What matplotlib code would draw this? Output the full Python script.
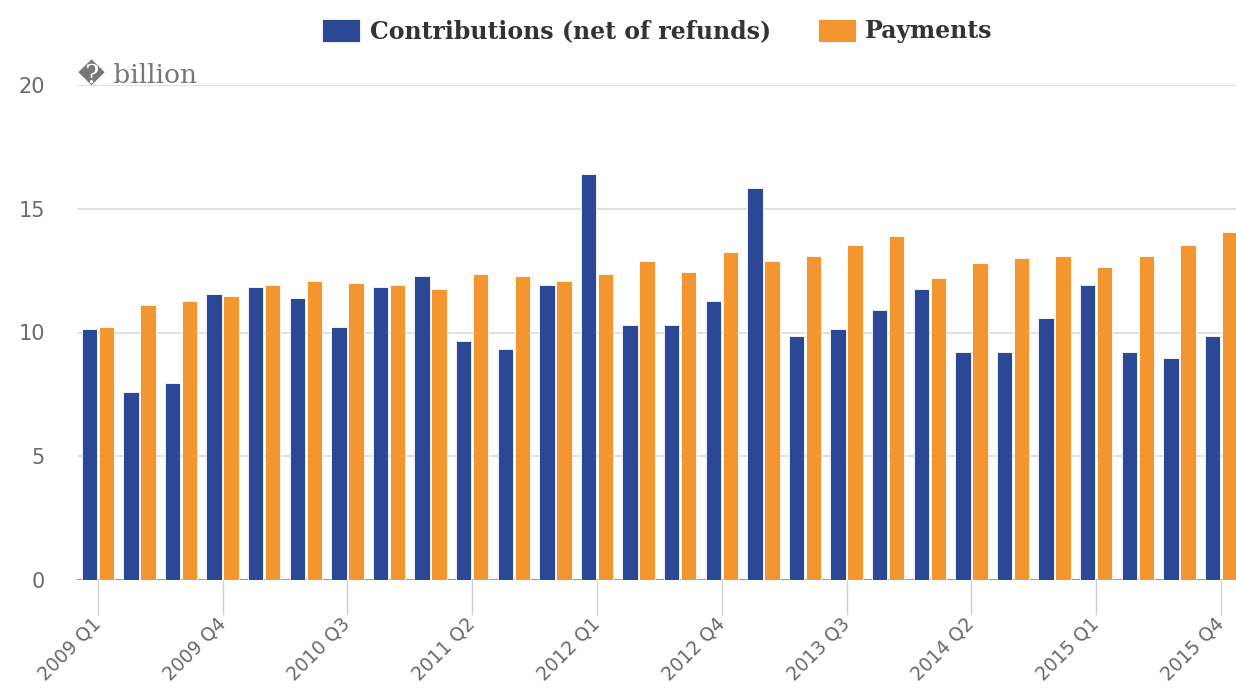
import matplotlib.pyplot as plt
import numpy as np

quarters = ["%d Q%d" % (y, q) for y in range(2009, 2016) for q in range(1, 5)]
contributions = [10.13, 7.61, 7.96, 11.56, 11.82, 11.38, 10.21, 11.82, 12.27, 9.67,
                 9.32, 11.92, 16.40, 10.30, 10.30, 11.29, 15.85, 9.84, 10.13, 10.92,
                 11.74, 9.23, 9.23, 10.57, 11.92, 9.23, 8.96, 9.84]
payments = [10.21, 11.10, 11.29, 11.47, 11.92, 12.09, 12.00, 11.92, 11.74, 12.36,
            12.27, 12.09, 12.36, 12.90, 12.46, 13.27, 12.90, 13.08, 13.52, 13.89,
            12.19, 12.81, 13.00, 13.08, 12.63, 13.08, 13.52, 14.06]
series_names = ["Contributions (net of refunds)", "Payments"]
colors = ["#2a4896", "#f3962f"]

W, H = 1236, 689
fig = plt.figure(figsize=(W / 100, H / 100), dpi=100)
# axes placed in pixel terms: x from 77 to 1236, y from 85 (20) to 580 (0)
ax = fig.add_axes([77 / W, (H - 580) / H, (W - 77) / W, (580 - 85) / H])

x = np.arange(len(quarters))
bw = 0.37
ax.bar(x - bw / 2 - 0.02, contributions, bw, color=colors[0], edgecolor="white",
       linewidth=0.6, zorder=3, label=series_names[0])
ax.bar(x + bw / 2 + 0.02, payments, bw, color=colors[1], edgecolor="white",
       linewidth=0.6, zorder=3, label=series_names[1])

ax.set_ylim(0, 20)
ax.set_xlim(-0.5, -0.5 + (W - 77) / 41.6)
ax.set_yticks([0, 5, 10, 15, 20])
ax.yaxis.grid(True, color="#dcdcdc", linewidth=1.2, zorder=0)
ax.axhline(0, color="#8a8a8a", linewidth=1.2, zorder=2)
for s in ax.spines.values():
    s.set_visible(False)

ax.tick_params(axis="y", length=0, pad=23, labelsize=15, labelcolor="#6a6a6a")

tick_pos = x[::3]
ax.set_xticks(tick_pos)
ax.set_xticklabels([quarters[i] for i in tick_pos], rotation=45, ha="right",
                   va="center", rotation_mode="anchor", fontsize=13.5, color="#6a6a6a")
ax.tick_params(axis="x", length=25, width=1, color="#cfcfcf", pad=4)

fig.text(78 / W, 1 - 75 / H, "\ufffd billion", fontsize=19, color="#777777",
         family=["DejaVu Serif", "DejaVu Sans"], va="center", ha="left")

leg = fig.legend(loc="center", bbox_to_anchor=(0.532, 1 - 31 / H), ncol=2,
                 frameon=False, handlelength=1.6, handleheight=1.15,
                 columnspacing=2.0, handletextpad=0.4,
                 prop={"family": "DejaVu Serif", "weight": "bold", "size": 17})
for t in leg.get_texts():
    t.set_color("#333333")

fig.savefig("out.png", dpi=100)
